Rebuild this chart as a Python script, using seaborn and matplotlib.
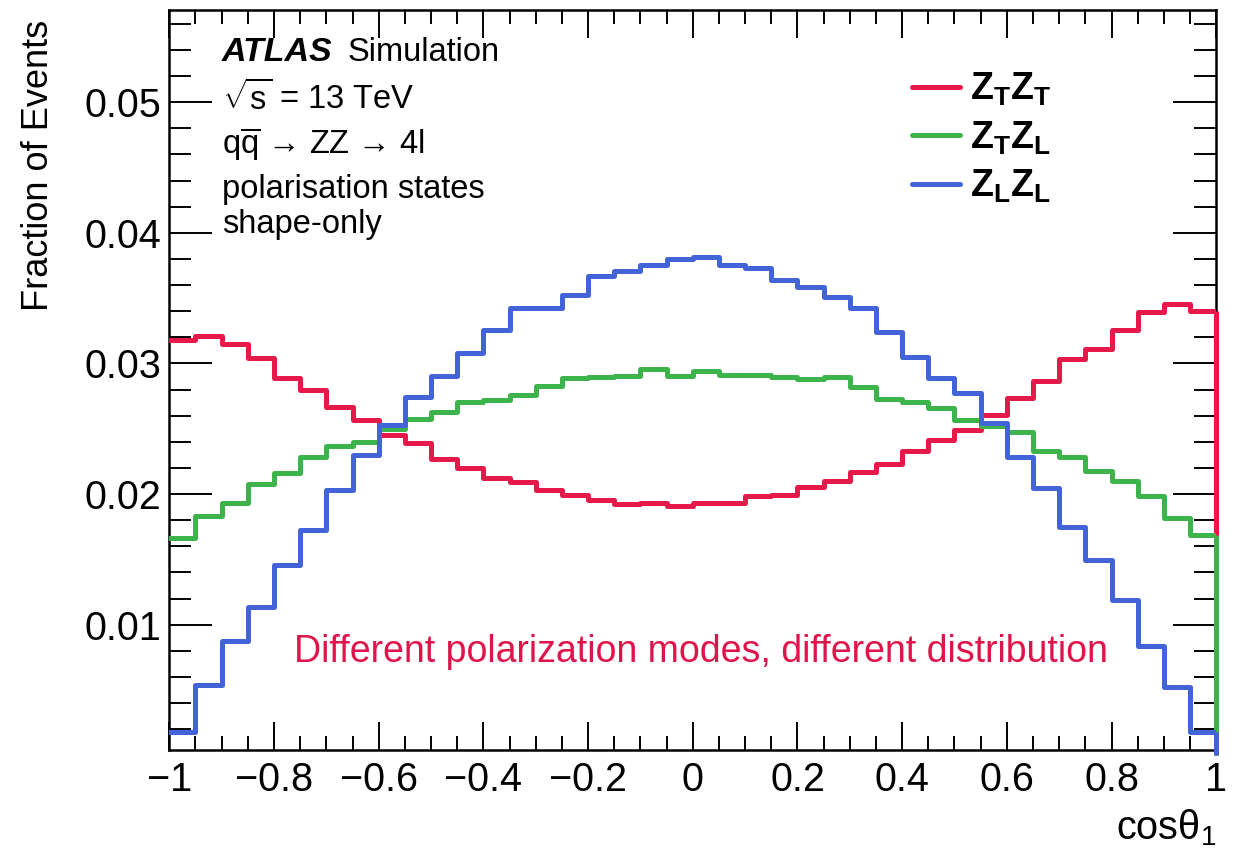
import numpy as np
import pandas as pd
import matplotlib
matplotlib.use("Agg")
import matplotlib.pyplot as plt
from matplotlib.ticker import MultipleLocator, FuncFormatter
import seaborn as sns

# ---------------- data ----------------
bin_edges = list(np.round(np.linspace(-1.0, 1.0, 41), 4))

zt_zt = [0.03181, 0.03211, 0.03150, 0.03043, 0.02892, 0.02798, 0.02665, 0.02568, 0.02453, 0.02394,
         0.02270, 0.02201, 0.02121, 0.02090, 0.02029, 0.01996, 0.01958, 0.01922, 0.01932, 0.01907,
         0.01932, 0.01932, 0.01983, 0.01996, 0.02057, 0.02098, 0.02167, 0.02231, 0.02328, 0.02410,
         0.02494, 0.02606, 0.02734, 0.02864, 0.03037, 0.03112, 0.03254, 0.03392, 0.03456, 0.03405]

zt_zl = [0.01665, 0.01835, 0.01930, 0.02078, 0.02162, 0.02282, 0.02364, 0.02402, 0.02496, 0.02576,
         0.02627, 0.02703, 0.02721, 0.02760, 0.02826, 0.02890, 0.02894, 0.02907, 0.02956, 0.02902,
         0.02943, 0.02915, 0.02915, 0.02894, 0.02877, 0.02894, 0.02818, 0.02726, 0.02703, 0.02660,
         0.02568, 0.02519, 0.02473, 0.02328, 0.02287, 0.02175, 0.02103, 0.01983, 0.01818, 0.01690]

zl_zl = [0.00181, 0.00534, 0.00873, 0.01133, 0.01458, 0.01721, 0.02032, 0.02302, 0.02530, 0.02741,
         0.02902, 0.03081, 0.03257, 0.03426, 0.03426, 0.03525, 0.03668, 0.03711, 0.03755, 0.03801,
         0.03813, 0.03757, 0.03732, 0.03640, 0.03584, 0.03507, 0.03423, 0.03239, 0.03048, 0.02887,
         0.02772, 0.02545, 0.02282, 0.02044, 0.01751, 0.01491, 0.01185, 0.00840, 0.00521, 0.00181]

series_labels = [r"$\mathbf{Z_{T}Z_{T}}$", r"$\mathbf{Z_{T}Z_{L}}$", r"$\mathbf{Z_{L}Z_{L}}$"]
series_values = [zt_zt, zt_zl, zl_zl]
series_colors = ["#e6194b", "#3cb44b", "#4363d8"]

info_lines = [r"$\sqrt{\mathrm{s}}$ = 13 TeV",
              r"q$\overline{\mathrm{q}}$ → ZZ → 4l",
              "polarisation states",
              "shape-only"]
note_text = "Different polarization modes, different distribution"

# ---------------- style ----------------
sns.set_style("ticks")
plt.rcParams["font.family"] = ["Liberation Sans", "DejaVu Sans"]
plt.rcParams["mathtext.fontset"] = "custom"
plt.rcParams["mathtext.rm"] = "Liberation Sans"
plt.rcParams["mathtext.it"] = "Liberation Sans:italic"
plt.rcParams["mathtext.bf"] = "Liberation Sans:bold"
plt.rcParams["text.color"] = "black"
plt.rcParams["axes.labelcolor"] = "black"
plt.rcParams["xtick.color"] = "black"
plt.rcParams["ytick.color"] = "black"
plt.rcParams["xtick.labelcolor"] = "black"
plt.rcParams["ytick.labelcolor"] = "black"

fig = plt.figure(figsize=(12.45, 8.52), dpi=100)
ax = fig.add_axes([169.3 / 1245, 1 - 750 / 852, (1216.2 - 169.3) / 1245, (750 - 9.5) / 852])

centers = [0.5 * (a + b) for a, b in zip(bin_edges[:-1], bin_edges[1:])]
for lab, vals, col in zip(series_labels, series_values, series_colors):
    df = pd.DataFrame({"x": centers, "w": vals})
    sns.histplot(data=df, x="x", weights="w", bins=bin_edges, element="step",
                 fill=False, color=col, linewidth=3.6, ax=ax, label=lab, zorder=3)
    # closing vertical edge at the right end down to the baseline
    ax.plot([bin_edges[-1], bin_edges[-1]], [0, vals[-1]], color=col, lw=3.6,
            solid_capstyle="butt", zorder=3, clip_on=False)

ax.set_xlim(-1, 1)
ax.set_ylim(0.0004, 0.0571)

ax.xaxis.set_major_locator(MultipleLocator(0.2))
ax.xaxis.set_minor_locator(MultipleLocator(0.05))
ax.yaxis.set_major_locator(MultipleLocator(0.01))
ax.yaxis.set_minor_locator(MultipleLocator(0.002))


def xfmt(v, pos):
    if abs(v) < 1e-9:
        return "0"
    s = f"{v:.1f}".rstrip("0").rstrip(".")
    return s.replace("-", "\u2212")


ax.xaxis.set_major_formatter(FuncFormatter(xfmt))
ax.yaxis.set_major_formatter(FuncFormatter(lambda v, p: f"{v:.2f}"))

ax.tick_params(axis="both", which="both", direction="in", top=True, right=True,
               labelsize=28.5, width=1.4, color="black", labelcolor="black")
ax.tick_params(axis="x", which="major", length=20, pad=8)
ax.tick_params(axis="x", which="minor", length=10)
ax.tick_params(axis="y", which="major", length=31, pad=6)
ax.tick_params(axis="y", which="minor", length=16)
for sp in ax.spines.values():
    sp.set_linewidth(1.8)
    sp.set_color("black")

ax.set_xlabel("cosθ$_{1}$", fontsize=28.5, loc="right", labelpad=6)
ax.set_ylabel("Fraction of Events", fontsize=26, loc="top")
ax.yaxis.set_label_coords(-0.108, 0.986)

# ATLAS label block
tx = (222 - 169.3) / 1046.9
ax.text(tx, 0.942, "ATLAS", transform=ax.transAxes, fontsize=24.5,
        fontweight="bold", fontstyle="italic", va="center", ha="left")
ax.text((348 - 169.3) / 1046.9, 0.942, "Simulation", transform=ax.transAxes, fontsize=23.5,
        va="center", ha="left")
ys = [0.879, 0.818, 0.757, 0.709]
for yy, line in zip(ys, info_lines):
    ax.text(tx, yy, line, transform=ax.transAxes, fontsize=23.5, va="center", ha="left")

ax.text(0.508, 0.132, note_text, transform=ax.transAxes, fontsize=27,
        color="#e0134a", ha="center", va="center")

leg = ax.legend(loc="upper left", bbox_to_anchor=((911.7 - 169.3) / 1046.9, 0.917),
                frameon=False, fontsize=27, handlelength=1.3, handletextpad=0.25,
                labelspacing=0.3, borderpad=0, borderaxespad=0)
for h in leg.get_lines():
    h.set_linewidth(3.6)

fig.savefig("out.png", dpi=100)
